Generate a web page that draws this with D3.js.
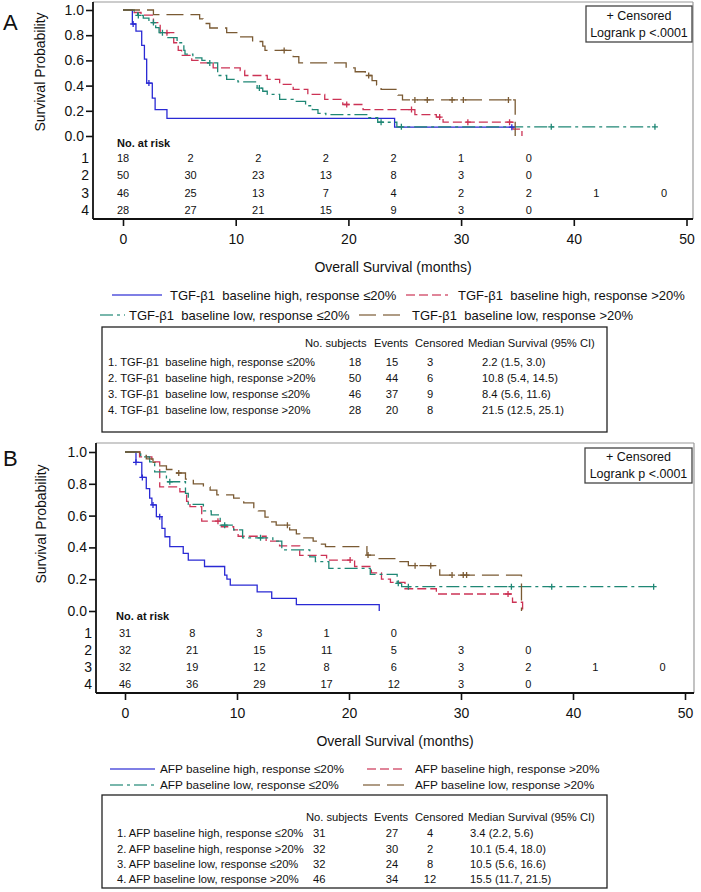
<!DOCTYPE html>
<html><head><meta charset="utf-8">
<script src="https://cdn.jsdelivr.net/npm/d3@7"></script>
<style>
body{margin:0;background:#fff}
svg{display:block}
text{font-family:"Liberation Sans",Arial,sans-serif;fill:#111;white-space:pre}
</style>
</head><body>
<svg id="c" width="701" height="892"></svg>
<script>
// ---------------- DATA ----------------
const xTicks = [0, 10, 20, 30, 40, 50];
const yTicks = [0, 0.2, 0.4, 0.6, 0.8, 1.0];
const riskTimes = [0, 6, 12, 18, 24, 30, 36, 42, 48];

// Panel A (TGF-β1) — KM steps [time, survival]
const a1 = [[0,1],[0.83,0.889],[1.15,0.833],[1.66,0.72],[1.9,0.61],[2.1,0.42],[2.6,0.30],[2.85,0.21],[3.9,0.14],[24.1,0.07],[34.5,0.07]];
const a2 = [[0,1],[0.9,0.98],[1.6,0.96],[2.7,0.90],[3.3,0.82],[4.5,0.74],[4.9,0.68],[5.2,0.64],[6.1,0.60],[6.8,0.58],[8.0,0.54],[10.4,0.52],[10.8,0.48],[12.8,0.45],[13.9,0.41],[15.1,0.37],[16.4,0.33],[17.9,0.29],[19.5,0.25],[21.3,0.21],[25.9,0.17],[27.8,0.15],[28.4,0.11],[34.6,0.055],[35.4,0]];
const a3 = [[0,1],[1.0,0.978],[1.3,0.957],[1.8,0.935],[2.3,0.90],[2.9,0.86],[3.2,0.82],[3.9,0.78],[4.8,0.74],[5.4,0.68],[5.5,0.65],[6.2,0.62],[7.0,0.60],[7.4,0.58],[8.4,0.48],[9.2,0.45],[10.2,0.43],[11.9,0.38],[12.4,0.355],[12.8,0.33],[13.9,0.29],[15.1,0.275],[16.2,0.24],[16.8,0.21],[17.3,0.18],[18.0,0.17],[21.8,0.145],[22.6,0.109],[24.3,0.073],[47.2,0.073]];
const a4 = [[0,1],[2.7,0.964],[6.8,0.929],[7.1,0.893],[7.7,0.857],[9.2,0.821],[10.2,0.786],[11.5,0.75],[12.4,0.714],[12.6,0.679],[15.1,0.63],[15.6,0.58],[19.8,0.54],[20.6,0.51],[21.5,0.48],[22.1,0.44],[22.5,0.405],[22.9,0.37],[24.4,0.325],[24.8,0.286],[34.8,0]];
const a1Cens = [0.9, 2.3, 34.5];
const a2Cens = [3.9, 19.85, 25.6, 28.1, 30.6, 34.3];
const a3Cens = [1.36, 2.7, 3.5, 7.7, 12.1, 22.9, 24.7, 38.0, 47.2];
const a4Cens = [14.3, 21.8, 25.9, 27.0, 29.2, 30.2, 34.2];
const riskA = [[18,2,2,2,2,1,0],[50,30,23,13,8,3,0],[46,25,13,7,4,2,2,1,0],[28,27,21,15,9,3,0]];

// Panel B (AFP)
const b1 = [[0,1],[0.98,0.935],[1.5,0.84],[1.9,0.77],[2.2,0.71],[2.4,0.667],[2.8,0.593],[3.3,0.52],[3.57,0.467],[4.0,0.405],[5.2,0.363],[5.65,0.32],[7.1,0.28],[8.9,0.226],[9.1,0.2],[9.4,0.163],[11.8,0.12],[13.1,0.08],[15.3,0.04],[22.7,0]];
const b2 = [[0,1],[1.3,0.969],[2.4,0.938],[3.1,0.781],[4.9,0.75],[5.5,0.69],[5.8,0.656],[6.85,0.565],[8.6,0.53],[9.7,0.51],[10.1,0.47],[12.6,0.44],[13.8,0.41],[15.6,0.35],[18.0,0.32],[20.5,0.28],[22.0,0.24],[22.9,0.2],[23.7,0.18],[25.0,0.14],[27.8,0.107],[34.6,0.055],[35.5,0]];
const b3 = [[0,1],[1.4,0.969],[2.2,0.938],[2.65,0.875],[3.7,0.813],[5.4,0.74],[5.65,0.67],[7.0,0.63],[7.7,0.604],[8.5,0.54],[9.7,0.51],[10.5,0.46],[13.2,0.44],[14.0,0.384],[16.5,0.34],[17.0,0.31],[18.2,0.268],[21.9,0.23],[24.3,0.174],[24.7,0.153],[47.2,0.153]];
const b4 = [[0,1],[1.34,0.978],[1.9,0.957],[2.5,0.935],[3.1,0.913],[3.7,0.89],[4.3,0.868],[5.4,0.83],[6.1,0.80],[7.0,0.78],[7.6,0.76],[8.2,0.73],[9.7,0.71],[10.6,0.68],[11.5,0.65],[11.9,0.63],[12.5,0.59],[12.9,0.56],[13.5,0.54],[14.7,0.51],[15.3,0.485],[15.6,0.46],[16.8,0.44],[17.4,0.42],[17.9,0.405],[21.6,0.352],[22.5,0.33],[24.3,0.31],[25.3,0.285],[28.1,0.226],[35.4,0]];
const b1Cens = [0.98, 1.55, 2.5, 3.1];
const b2Cens = [8.3, 20.1, 34.2];
const b3Cens = [4.0, 8.9, 12.1, 24.4, 25.3, 34.5, 38.1, 47.2];
const b4Cens = [4.8, 14.5, 21.7, 25.9, 27.3, 29.2, 30.2, 30.5];
const riskB = [[31,8,3,1,0],[32,21,15,11,5,3,0],[32,19,12,8,6,3,2,1,0],[46,36,29,17,12,3,0]];

// Legends & summary tables
const legendA = ["TGF-β1  baseline high, response ≤20%","TGF-β1  baseline high, response >20%","TGF-β1  baseline low, response ≤20%","TGF-β1  baseline low, response >20%"];
const legendB = ["AFP baseline high, response ≤20%","AFP baseline high, response >20%","AFP baseline low, response ≤20%","AFP baseline low, response >20%"];
const tableHeader = ["No. subjects","Events","Censored","Median Survival (95% CI)"];
const tableLabelsA = ["1. TGF-β1  baseline high, response ≤20%","2. TGF-β1  baseline high, response >20%","3. TGF-β1  baseline low, response ≤20%","4. TGF-β1  baseline low, response >20%"];
const subjectsA = [18, 50, 46, 28];
const eventsA = [15, 44, 37, 20];
const censoredA = [3, 6, 9, 8];
const medianA = ["2.2 (1.5, 3.0)","10.8 (5.4, 14.5)","8.4 (5.6, 11.6)","21.5 (12.5, 25.1)"];
const tableLabelsB = ["1. AFP baseline high, response ≤20%","2. AFP baseline high, response >20%","3. AFP baseline low, response ≤20%","4. AFP baseline low, response >20%"];
const subjectsB = [31, 32, 32, 46];
const eventsB = [27, 30, 24, 34];
const censoredB = [4, 2, 8, 12];
const medianB = ["3.4 (2.2, 5.6)","10.1 (5.4, 18.0)","10.5 (5.6, 16.6)","15.5 (11.7, 21.5)"];

// ---------------- STYLE ----------------
const colors = ["#2a2ad4", "#cc3355", "#1f8775", "#7a5a33"];
const dashes = [null, "9,4", "13,4,3,4", "17,7"];
const FONT = '"Liberation Sans", Arial, sans-serif';

const svg = d3.select("#c");
svg.append("rect").attr("width",701).attr("height",892).attr("fill","#fff");

function survAt(curve, t){ let s = 1; for (const [tt, ss] of curve){ if (tt <= t) s = ss; } return s; }

function panel(P){
  const x = d3.scaleLinear().domain([0,50]).range([P.x0, P.x50]);
  const y = d3.scaleLinear().domain([0,1]).range([P.y0, P.y1]);
  const g = svg.append("g");

  // frame
  g.append("line").attr("x1",P.fl).attr("x2",P.fr).attr("y1",P.ft).attr("y2",P.ft).attr("stroke","#9a9a9a").attr("stroke-width",1.2);
  g.append("line").attr("x1",P.fr).attr("x2",P.fr).attr("y1",P.ft).attr("y2",P.fb).attr("stroke","#9a9a9a").attr("stroke-width",1.2);
  g.append("line").attr("x1",P.fl).attr("x2",P.fl).attr("y1",P.ft).attr("y2",P.fb).attr("stroke","#111").attr("stroke-width",1.8);
  g.append("line").attr("x1",P.fl).attr("x2",P.fr).attr("y1",P.fb).attr("y2",P.fb).attr("stroke","#111").attr("stroke-width",1.8);

  // x axis
  const ax = g.append("g").attr("transform",`translate(0,${P.fb})`)
    .call(d3.axisBottom(x).tickValues(xTicks).tickSize(7).tickPadding(8).tickSizeOuter(0).tickFormat(d3.format("d")));
  ax.select(".domain").remove();
  ax.attr("font-family",FONT).attr("font-size",14);
  ax.selectAll("line").attr("stroke","#111").attr("stroke-width",1.6);
  ax.selectAll("text").attr("fill","#111");

  // y axis
  const ay = g.append("g").attr("transform",`translate(${P.fl},0)`)
    .call(d3.axisLeft(y).tickValues(yTicks).tickSize(7).tickPadding(2).tickSizeOuter(0).tickFormat(d3.format(".1f")));
  ay.select(".domain").remove();
  ay.attr("font-family",FONT).attr("font-size",14);
  ay.selectAll("line").attr("stroke","#111").attr("stroke-width",1.6);
  ay.selectAll("text").attr("fill","#111");

  // titles
  g.append("text").attr("x",(P.fl+P.fr)/2).attr("y",P.xTitleY).attr("text-anchor","middle").attr("dominant-baseline","central").attr("font-size",14).text("Overall Survival (months)");
  g.append("text").attr("transform",`translate(${P.yTitle[0]},${P.yTitle[1]}) rotate(-90)`).attr("text-anchor","middle").attr("dominant-baseline","central").attr("font-size",14).text("Survival Probability");
  g.append("text").attr("x",P.letter[1]).attr("y",P.letter[2]).attr("font-size",22).text(P.letter[0]);

  // curves
  const line = d3.line().x(d=>x(d[0])).y(d=>y(d[1])).curve(d3.curveStepAfter);
  P.curves.forEach((c,i)=>{
    g.append("path").datum(c).attr("d",line).attr("fill","none").attr("stroke",colors[i])
      .attr("stroke-width",1.3).attr("stroke-dasharray",dashes[i]);
  });
  // censor marks
  P.cens.forEach((cs,i)=>{
    cs.forEach(t=>{
      const cx = x(t), cy = y(survAt(P.curves[i], t));
      g.append("path").attr("d",`M${cx-3},${cy}H${cx+3}M${cx},${cy-3}V${cy+3}`).attr("stroke",colors[i]).attr("stroke-width",1.3);
    });
  });

  // censored box
  const [bx,by,bw,bh] = P.box;
  g.append("rect").attr("x",bx).attr("y",by).attr("width",bw).attr("height",bh).attr("fill","#fff").attr("stroke","#444").attr("stroke-width",1.3);
  g.append("text").attr("x",bx+bw/2).attr("y",by+bh*0.27).attr("text-anchor","middle").attr("dominant-baseline","central").attr("font-size",12.5).text("+ Censored");
  g.append("text").attr("x",bx+bw/2).attr("y",by+bh*0.74).attr("text-anchor","middle").attr("dominant-baseline","central").attr("font-size",12.5).text("Logrank p <.0001");

  // at-risk table
  g.append("text").attr("x",P.riskHead[0]).attr("y",P.riskHead[1]).attr("dominant-baseline","central").attr("font-size",11).attr("font-weight","bold").text("No. at risk");
  P.risk.forEach((row,i)=>{
    g.append("text").attr("x",P.rowLabX).attr("y",P.riskY[i]).attr("text-anchor","end").attr("dominant-baseline","central").attr("font-size",14).text(i+1);
    row.forEach((v,j)=>{
      g.append("text").attr("x",x(riskTimes[j])).attr("y",P.riskY[i]).attr("text-anchor","middle").attr("dominant-baseline","central").attr("font-size",11).text(v);
    });
  });

  // legend
  P.legend.forEach((L,i)=>{
    g.append("line").attr("x1",L.sx).attr("x2",L.ex).attr("y1",L.y).attr("y2",L.y).attr("stroke",colors[i]).attr("stroke-opacity",0.6)
      .attr("stroke-width",2).attr("stroke-dasharray",dashes[i]);
    g.append("text").attr("x",L.tx).attr("y",L.y).attr("dominant-baseline","central").attr("font-size",P.legendFont).text(P.legendText[i]);
  });

  // summary table
  const T = P.table, fs = 11.2;
  g.append("rect").attr("x",T.box[0]).attr("y",T.box[1]).attr("width",T.box[2]).attr("height",T.box[3]).attr("fill","none").attr("stroke","#222").attr("stroke-width",1.3);
  tableHeader.forEach((h,k)=>{
    g.append("text").attr("x",T.headX[k]).attr("y",T.headY).attr("dominant-baseline","central").attr("font-size",fs).text(h);
  });
  T.labels.forEach((lab,i)=>{
    const yy = T.rowY[i];
    g.append("text").attr("x",T.labX).attr("y",yy).attr("dominant-baseline","central").attr("font-size",fs).text(lab);
    g.append("text").attr("x",T.colX[0]).attr("y",yy).attr("text-anchor",T.anchors[0]).attr("dominant-baseline","central").attr("font-size",fs).text(T.subj[i]);
    g.append("text").attr("x",T.colX[1]).attr("y",yy).attr("text-anchor","middle").attr("dominant-baseline","central").attr("font-size",fs).text(T.ev[i]);
    g.append("text").attr("x",T.colX[2]).attr("y",yy).attr("text-anchor","middle").attr("dominant-baseline","central").attr("font-size",fs).text(T.cen[i]);
    g.append("text").attr("x",T.colX[3]).attr("y",yy).attr("dominant-baseline","central").attr("font-size",fs).text(T.med[i]);
  });
}

panel({
  x0:123, x50:686.5, y0:136, y1:10, fl:93, fr:693, ft:2, fb:219,
  xTitleY:267, yTitle:[40,72], letter:["A",3,30],
  curves:[a1,a2,a3,a4], cens:[a1Cens,a2Cens,a3Cens,a4Cens],
  box:[586,6,106,36],
  risk:riskA, riskHead:[117,143], riskY:[158,175,193,210], rowLabX:89,
  legendText:legendA, legendFont:13,
  legend:[{sx:112,ex:162,tx:170,y:295},{sx:406,ex:448,tx:458,y:295},{sx:100,ex:125,tx:129,y:315},{sx:359,ex:403,tx:412,y:315}],
  table:{box:[102,327,505,105], headY:343, headX:[305,374,415,468], rowY:[362,378,394,410], labX:108,
    labels:tableLabelsA, subj:subjectsA, ev:eventsA, cen:censoredA, med:medianA,
    colX:[355,392,430,482], anchors:["middle"]}
});

panel({
  x0:125, x50:685, y0:611, y1:452, fl:96, fr:694, ft:443, fb:693,
  xTitleY:741, yTitle:[41,524], letter:["B",3,466],
  curves:[b1,b2,b3,b4], cens:[b1Cens,b2Cens,b3Cens,b4Cens],
  box:[585,448,107,35],
  risk:riskB, riskHead:[116,616], riskY:[633,650,667,684], rowLabX:92,
  legendText:legendB, legendFont:11.8,
  legend:[{sx:110,ex:155,tx:160,y:769},{sx:367,ex:405,tx:415,y:769},{sx:110,ex:155,tx:160,y:785},{sx:363,ex:405,tx:415,y:785}],
  table:{box:[102,795,505,93], headY:817, headX:[306,374,415,468], rowY:[833,849,864,879], labX:117,
    labels:tableLabelsB, subj:subjectsB, ev:eventsB, cen:censoredB, med:medianB,
    colX:[313,392,430,470], anchors:["start"]}
});
</script>
</body></html>
